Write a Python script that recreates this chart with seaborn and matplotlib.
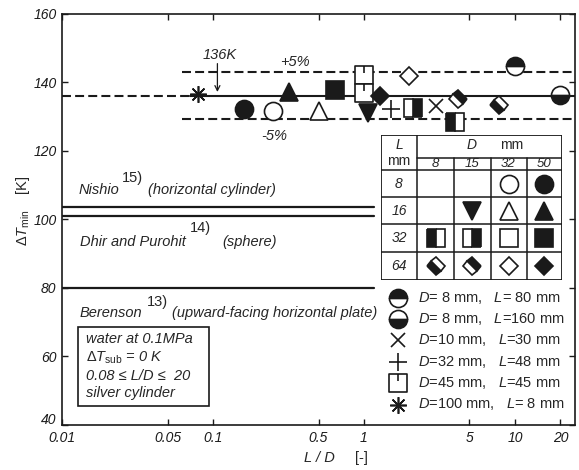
import numpy as np
import pandas as pd
import matplotlib
matplotlib.use("Agg")
import matplotlib.pyplot as plt
from matplotlib.markers import MarkerStyle
from matplotlib.path import Path
from matplotlib.transforms import Affine2D, ScaledTranslation
from matplotlib.patches import Rectangle
from matplotlib.ticker import NullLocator
import seaborn as sns

# measured points: L/D, dT_min [K], cylinder diameter and length [mm]
ld = [0.08, 0.16, 0.25, 0.32, 0.5, 0.64, 1.0, 1.0, 1.07, 1.28, 1.5, 2.1, 2.0,
      3.0, 4.0, 4.2, 7.8, 10.0, 20.0]
dT_min = [136.5, 132.1, 131.6, 137.0, 131.6, 137.6, 142.1, 136.8, 131.0, 136.0,
          132.1, 132.3, 141.8, 133.1, 128.5, 135.2, 133.3, 144.8, 136.1]
dia_mm = [100, 50, 32, 50, 32, 50, 45, 45, 15, 50, 32, 15, 32, 10, 8, 15, 8, 8, 8]
len_mm = [8, 8, 8, 16, 16, 32, 45, 45, 16, 64, 48, 32, 64, 30, 32, 64, 64, 80, 160]

mean_dT = 136
band = 0.05

# correlations from literature
ref_names = ["Nishio", "Dhir and Purohit", "Berenson"]
ref_nums = ["15)", "14)", "13)"]
ref_geoms = ["(horizontal cylinder)", "(sphere)", "(upward-facing horizontal plate)"]
ref_dT = [103.6, 100.9, 80.0]

table_D = [8, 15, 32, 50]
table_L = [8, 16, 32, 64]

legend_D = [8, 8, 10, 32, 45, 100]
legend_L = [80, 160, 30, 48, 45, 8]

xticks = [0.01, 0.05, 0.1, 0.5, 1, 5, 10, 20]
xtick_labels = ["0.01", "0.05", "0.1", "0.5", "1", "5", "10", "20"]
yticks = [40, 60, 80, 100, 120, 140, 160]

sns.set_theme(style="ticks")
plt.rcParams["font.family"] = ["Liberation Sans", "DejaVu Sans"]
plt.rcParams["mathtext.fontset"] = "custom"
plt.rcParams["mathtext.rm"] = "Liberation Sans"
plt.rcParams["mathtext.it"] = "Liberation Sans:italic"
plt.rcParams["mathtext.bf"] = "Liberation Sans:bold"
plt.rcParams["mathtext.sf"] = "Liberation Sans"


def diamond(fill):
    return MarkerStyle("s", fillstyle=fill, transform=Affine2D().rotate_deg(45))


tick_square = Path([(-1, -1), (1, -1), (1, 1), (-1, 1), (-1, -1), (0, 1), (0, 0.25)],
                   [Path.MOVETO, Path.LINETO, Path.LINETO, Path.LINETO,
                    Path.CLOSEPOLY, Path.MOVETO, Path.LINETO])

# marker for every (D, L) combination
style = {
    (50, 8): dict(marker="o", mfc="k"),
    (32, 8): dict(marker="o", mfc="w"),
    (50, 16): dict(marker="^", mfc="k"),
    (32, 16): dict(marker="^", mfc="w"),
    (15, 16): dict(marker="v", mfc="k"),
    (50, 32): dict(marker="s", mfc="k"),
    (32, 32): dict(marker="s", mfc="w"),
    (15, 32): dict(marker="s", fillstyle="right", mfc="k", markerfacecoloralt="w"),
    (8, 32): dict(marker="s", fillstyle="left", mfc="k", markerfacecoloralt="w"),
    (50, 64): dict(marker=diamond("full"), mfc="k", ms=9.5),
    (32, 64): dict(marker=diamond("full"), mfc="w", ms=9.5),
    (15, 64): dict(marker=diamond("right"), mfc="k", markerfacecoloralt="w", ms=9.5),
    (8, 64): dict(marker=diamond("left"), mfc="k", markerfacecoloralt="w", ms=9.5),
    (8, 80): dict(marker="o", fillstyle="top", mfc="k", markerfacecoloralt="w"),
    (8, 160): dict(marker="o", fillstyle="bottom", mfc="k", markerfacecoloralt="w"),
    (10, 30): dict(marker="x", ms=10),
    (32, 48): dict(marker="+", ms=13),
    (45, 45): dict(marker=tick_square, mfc="w", ms=12.5),
    (100, 8): dict(marker=(8, 2, 0), ms=12),
}


def mk(D, L, **extra):
    kw = dict(ls="none", ms=13, mec="k", color="k", mew=1.2, zorder=4)
    kw.update(style[(D, L)])
    kw.update(extra)
    return kw


W, H = 579, 470
fig = plt.figure(figsize=(W / 100, H / 100), dpi=100)
ax = fig.add_axes([62 / W, 1 - 425 / H, 513 / W, 411.5 / H])
ax.set_xscale("log")
ax.set_xlim(0.01, 25)
ax.set_ylim(40, 160)

# mean line and +-5% band
ax.plot([0.01, 0.07], [mean_dT, mean_dT], color="k", lw=1.5, ls=(0, (4.3, 2)))
ax.plot([0.07, 25], [mean_dT, mean_dT], color="k", lw=1.5)
for f in (1 + band, 1 - band):
    ax.plot([0.062, 25], [mean_dT * f, mean_dT * f], color="k", lw=1.5, ls=(0, (4.3, 2)))

# literature lines
for val in ref_dT:
    ax.plot([0.01, 1.17], [val, val], color="k", lw=1.6)

df = pd.DataFrame({"ld": ld, "dT": dT_min, "D": dia_mm, "L": len_mm})
for (D, L), g in df.groupby(["D", "L"], sort=False):
    ax.plot(g["ld"], g["dT"], **mk(D, L))

ax.set_xticks(xticks)
ax.set_xticklabels(xtick_labels)
ax.xaxis.set_minor_locator(NullLocator())
ax.set_yticks(yticks)
ax.tick_params(which="both", direction="in", top=True, right=True, length=4,
               width=1, labelsize=10, pad=4, colors="k")
for lbl in ax.get_xticklabels() + ax.get_yticklabels():
    lbl.set_style("italic")
# the lowest y label sits a little higher, as in the original
low = ax.get_yticklabels()[0]
low.set_transform(low.get_transform() + ScaledTranslation(0, 7 / 100, fig.dpi_scale_trans))
for sp in ax.spines.values():
    sp.set_linewidth(1.2)
    sp.set_color("k")
ax.grid(False)

FS = 10.5


def fx(px):
    return px / W


def fy(py):
    return 1 - py / H


# labels of the literature lines (pixel positions)
ref_pos = [(79, 190, 122, 178, 148), (80, 242, 190, 228, 222), (80, 313, 147, 302, 172)]
for name, num, geom, (x0, y0, xs, ys, xg) in zip(ref_names, ref_nums, ref_geoms, ref_pos):
    fig.text(fx(x0), fy(y0), name, style="italic", fontsize=FS, va="center")
    fig.text(fx(xs), fy(ys), num, fontsize=FS, va="center")
    fig.text(fx(xg), fy(y0), geom, style="italic", fontsize=FS, va="center")

# 136 K annotation and band labels
ax.annotate("", xy=(0.107, mean_dT + 0.3), xytext=(0.107, 146.2),
            arrowprops=dict(arrowstyle="->", lw=0.9, color="k", mutation_scale=9))
ax.text(0.11, 147.9, "%dK" % mean_dT, style="italic", fontsize=FS, ha="center", va="center")
ax.text(0.35, 145.8, "+5%", style="italic", fontsize=FS, ha="center", va="center")
ax.text(0.254, 124.2, "-5%", style="italic", fontsize=FS, ha="center", va="center")

# condition box
fig.patches.append(Rectangle((fx(78), fy(406)), fx(209) - fx(78), fy(327) - fy(406),
                             transform=fig.transFigure, fill=False, ec="k", lw=1.2))
box_lines = ["water at 0.1MPa", r"$\Delta\mathit{T}_{\mathrm{sub}}$ = 0 K",
             "0.08 \u2264 L/D \u2264  20", "silver cylinder"]
for line, py in zip(box_lines, [339, 358, 376, 393]):
    fig.text(fx(86), fy(py), line, style="italic", fontsize=FS, va="center")

# axis labels
fig.text(fx(319), fy(458), "L / D", style="italic", fontsize=FS, ha="center", va="center")
fig.text(fx(361), fy(458), "[-]", fontsize=FS, ha="center", va="center")
fig.text(fx(23), fy(211), r"$\Delta\mathit{T}_{\mathrm{min}}$    [K]", rotation=90,
         fontsize=FS, ha="center", va="center")

# D / L table
tab = fig.add_axes([fx(381), fy(280), 181 / W, 145 / H])
tab.set_xlim(0, 181)
tab.set_ylim(145, 0)
tab.axis("off")
tab.add_patch(Rectangle((0, 0), 181, 145, fc="w", ec="k", lw=1.3, zorder=1))
col_edges = [0, 36, 73, 109.5, 145.5, 181]
row_edges = [0, 35, 62.5, 89, 116.5, 145]
tab.plot([36, 36], [0, 145], color="k", lw=1.1)
for xe in col_edges[2:-1]:
    tab.plot([xe, xe], [23, 145], color="k", lw=1.1)
tab.plot([36, 181], [23, 23], color="k", lw=1.1)
for ye in row_edges[1:-1]:
    tab.plot([0, 181], [ye, ye], color="k", lw=1.1)
col_c = [(a + b) / 2 for a, b in zip(col_edges[:-1], col_edges[1:])]
row_c = [(a + b) / 2 for a, b in zip(row_edges[:-1], row_edges[1:])]
tfs = 10
tab.text(18, 10, "L", style="italic", fontsize=tfs, ha="center", va="center")
tab.text(18, 26, "mm", fontsize=tfs, ha="center", va="center")
tab.text(91, 10.5, "D", style="italic", fontsize=tfs, ha="center", va="center")
tab.text(131, 10.5, "mm", fontsize=tfs, ha="center", va="center")
for j, D in enumerate(table_D):
    tab.text(col_c[j + 1], 29.5, str(D), style="italic", fontsize=9.5, ha="center", va="center")
for i, L in enumerate(table_L):
    tab.text(18, row_c[i + 1], str(L), style="italic", fontsize=tfs, ha="center", va="center")
    for j, D in enumerate(table_D):
        if (D, L) in style:
            tab.plot([col_c[j + 1]], [row_c[i + 1]], **mk(D, L))

# legend for the other cylinders
for k, (D, L) in enumerate(zip(legend_D, legend_L)):
    py = 297.5 + 21.4 * k
    lg = fig.add_axes([fx(390), fy(py + 8), 16 / W, 16 / H])
    lg.axis("off")
    lg.set_xlim(-1, 1)
    lg.set_ylim(-1, 1)
    lg.plot([0], [0], clip_on=False, **mk(D, L))
    dpad = " " if D < 10 else ""
    lpad = " " if (L < 10 or k == 0) else ""
    fig.text(fx(418), fy(py),
             r"$\mathit{D}$=%s$\mathit{%s}$ mm,   $\mathit{L}$=%s$\mathit{%s}$ mm"
             % (dpad, D, lpad, L),
             fontsize=10.5, va="center")

fig.savefig("out.png", dpi=100)
